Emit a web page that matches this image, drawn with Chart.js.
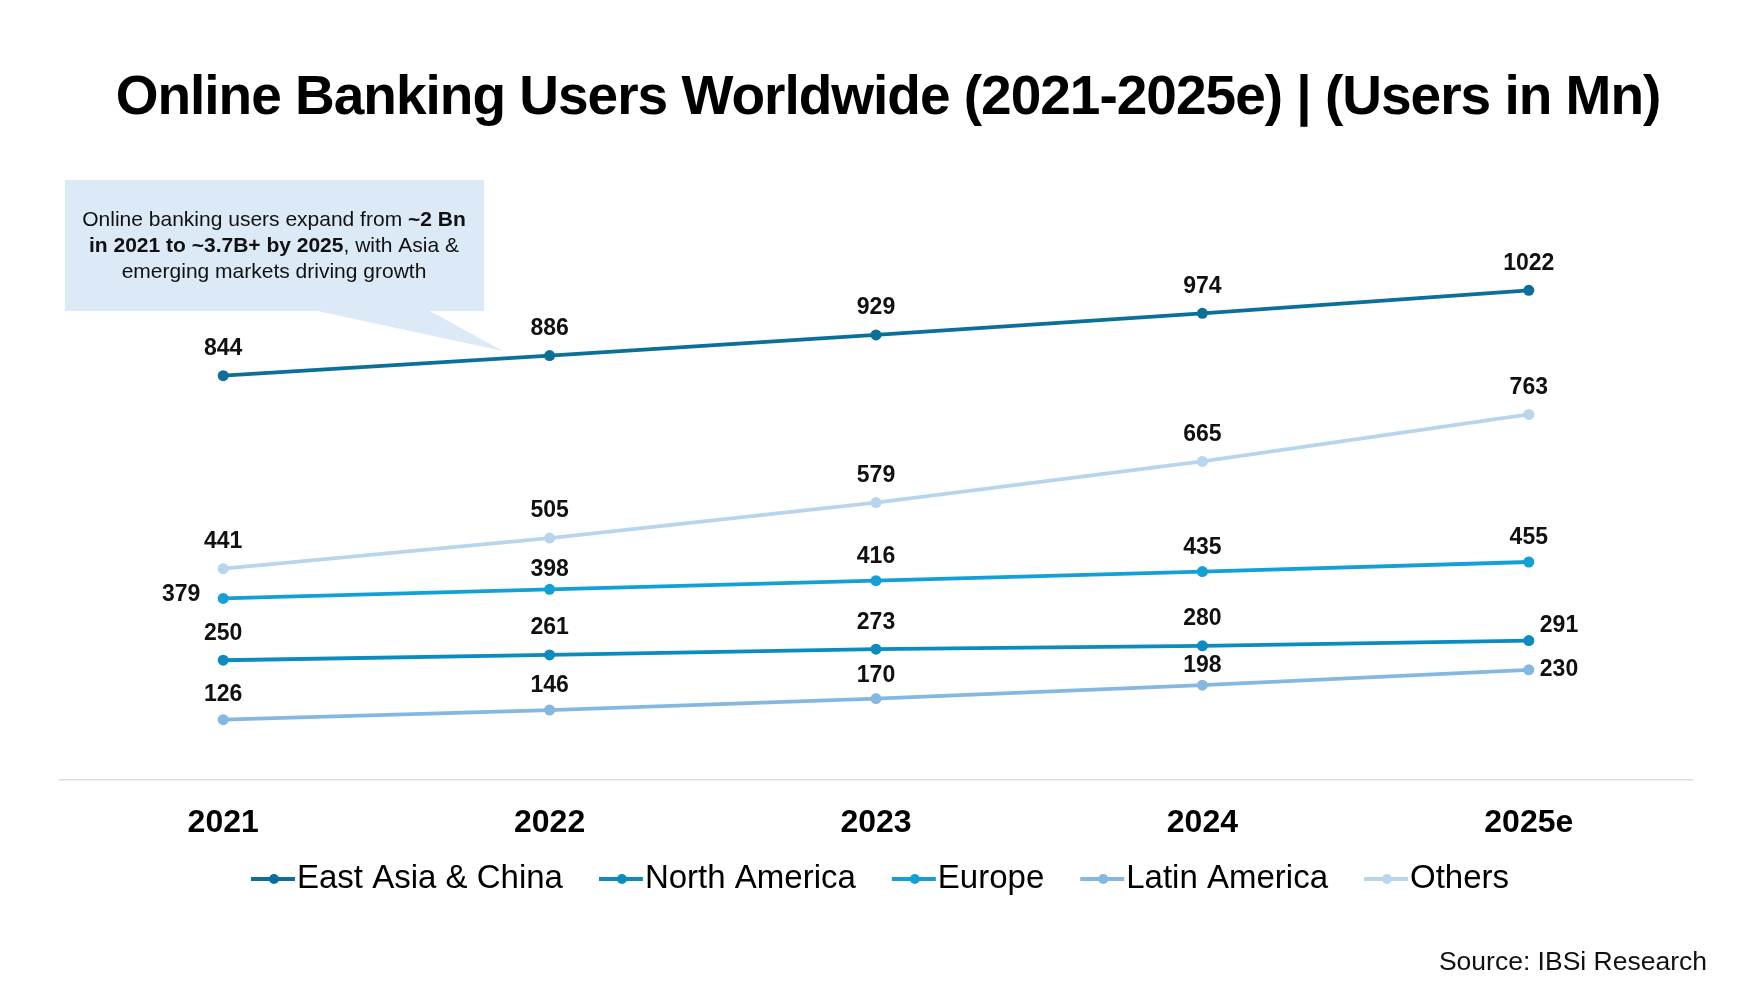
<!DOCTYPE html>
<html lang="en">
<head>
<meta charset="UTF-8">
<title>Online Banking Users Worldwide</title>
<script src="https://cdn.jsdelivr.net/npm/chart.js"></script>
<style>
	html, body { margin: 0; padding: 0; background: #fff; }
	#wrap { width: 1752px; height: 992px; position: relative; }
</style>
</head>
<body>
<div id="wrap"><canvas id="usersChart"></canvas></div>
<script>
	// data (users in Mn)
	const years = ['2021', '2022', '2023', '2024', '2025e'];
	const eastAsiaChina = [844, 886, 929, 974, 1022];
	const northAmerica = [250, 261, 273, 280, 291];
	const europe = [379, 398, 416, 435, 455];
	const latinAmerica = [126, 146, 170, 198, 230];
	const others = [441, 505, 579, 665, 763];

	const seriesNames = ['East Asia & China', 'North America', 'Europe', 'Latin America', 'Others'];
	const seriesColors = ['#0a6f99', '#0b8bbe', '#13a0d7', '#84b8e0', '#b9d5ec'];

	const FONT = '"Liberation Sans", Arial, sans-serif';

	// value labels: default is centred above the point; a few sit elsewhere
	const labelPlacement = {
		'2:0': { dx: -42, dy: -4, align: 'center' },   // Europe 2021 -> left
		'2:1': { dx: 0, dy: -20, align: 'center' },
		'2:2': { dx: 0, dy: -24, align: 'center' },
		'2:3': { dx: 0, dy: -24, align: 'center' },
		'2:4': { dx: 0, dy: -24, align: 'center' },
		'1:4': { dx: 11, dy: -15, align: 'left' },     // North America 2025e
		'3:0': { dx: 0, dy: -25, align: 'center' },
		'3:1': { dx: 0, dy: -24, align: 'center' },
		'3:2': { dx: 0, dy: -23, align: 'center' },
		'3:3': { dx: 0, dy: -19, align: 'center' },
		'3:4': { dx: 11, dy: 0, align: 'left' }        // Latin America 2025e
	};

	const valueLabels = {
		id: 'valueLabels',
		afterDatasetsDraw(chart) {
			const ctx = chart.ctx;
			ctx.save();
			ctx.font = 'bold 23px ' + FONT;
			ctx.fillStyle = '#111';
			ctx.textBaseline = 'middle';
			chart.data.datasets.forEach((ds, di) => {
				chart.getDatasetMeta(di).data.forEach((pt, i) => {
					const p = labelPlacement[di + ':' + i] || { dx: 0, dy: -27, align: 'center' };
					ctx.textAlign = p.align;
					ctx.fillText(ds.data[i], pt.x + p.dx, pt.y + p.dy);
				});
			});
			ctx.restore();
		}
	};

	const decorations = {
		id: 'decorations',
		beforeDraw(chart) {
			const ctx = chart.ctx;
			ctx.save();
			ctx.fillStyle = '#fff';
			ctx.fillRect(0, 0, chart.width, chart.height);
			ctx.restore();
		},
		afterDraw(chart) {
			const ctx = chart.ctx;
			ctx.save();

			// title
			ctx.fillStyle = '#000';
			ctx.textAlign = 'center';
			ctx.textBaseline = 'middle';
			ctx.font = 'bold 55px ' + FONT;
			ctx.letterSpacing = '-1px';
			ctx.fillText('Online Banking Users Worldwide (2021-2025e) | (Users in Mn)', 888, 99);
			ctx.letterSpacing = '0px';

			// callout box
			ctx.fillStyle = '#dce9f6';
			ctx.fillRect(65, 180, 419, 131);
			ctx.beginPath();
			ctx.moveTo(313, 310);
			ctx.lineTo(428, 310);
			ctx.lineTo(503, 351);
			ctx.closePath();
			ctx.fill();

			// callout text with bold fragments
			const lines = [
				[['Online banking users expand from ', false], ['~2 Bn', true]],
				[['in 2021 to ~3.7B+ by 2025', true], [', with Asia &', false]],
				[['emerging markets driving growth', false]]
			];
			ctx.fillStyle = '#111';
			ctx.textAlign = 'left';
			lines.forEach((parts, li) => {
				let w = 0;
				parts.forEach(([t, b]) => {
					ctx.font = (b ? 'bold ' : '') + '21px ' + FONT;
					w += ctx.measureText(t).width;
				});
				let x = 274 - w / 2;
				parts.forEach(([t, b]) => {
					ctx.font = (b ? 'bold ' : '') + '21px ' + FONT;
					ctx.fillText(t, x, 220 + li * 26);
					x += ctx.measureText(t).width;
				});
			});

			// legend
			const legendFont = '33px ' + FONT;
			ctx.font = legendFont;
			const markW = 46, gap = 36;
			let total = 0;
			seriesNames.forEach((n, i) => {
				total += markW + ctx.measureText(n).width + (i < seriesNames.length - 1 ? gap : 0);
			});
			let lx = 880 - total / 2;
			const ly = 879;
			seriesNames.forEach((n, i) => {
				ctx.strokeStyle = seriesColors[i];
				ctx.fillStyle = seriesColors[i];
				ctx.lineWidth = 4;
				ctx.beginPath();
				ctx.moveTo(lx, ly);
				ctx.lineTo(lx + markW - 2, ly);
				ctx.stroke();
				ctx.beginPath();
				ctx.arc(lx + markW / 2, ly, 5, 0, Math.PI * 2);
				ctx.fill();
				ctx.fillStyle = '#000';
				ctx.font = legendFont;
				ctx.fillText(n, lx + markW, ly);
				lx += markW + ctx.measureText(n).width + gap;
			});

			// source
			ctx.textAlign = 'right';
			ctx.font = '26.5px ' + FONT;
			ctx.fillStyle = '#111';
			ctx.fillText('Source: IBSi Research', 1707, 963);
			ctx.restore();
		}
	};

	const datasets = [eastAsiaChina, northAmerica, europe, latinAmerica, others].map((vals, i) => ({
		label: seriesNames[i],
		data: vals,
		borderColor: seriesColors[i],
		backgroundColor: seriesColors[i],
		borderWidth: 3.8,
		pointRadius: 5.5,
		pointHoverRadius: 5.5,
		pointBorderWidth: 0,
		tension: 0,
		clip: false
	}));

	const ctx = document.getElementById('usersChart').getContext('2d');
	new Chart(ctx, {
		type: 'line',
		data: { labels: years, datasets: datasets },
		options: {
			responsive: true,
			maintainAspectRatio: false,
			animation: false,
			layout: { padding: { left: 60, right: 60, top: 253, bottom: 152 } },
			plugins: {
				legend: { display: false },
				title: { display: false },
				tooltip: { enabled: false }
			},
			scales: {
				x: {
					offset: true,
					grid: { display: false, drawTicks: false },
					border: { display: true, color: '#dddddd', width: 1.5 },
					ticks: {
						color: '#000',
						padding: 24,
						font: { family: FONT, size: 32, weight: 'bold' }
					},
					afterFit(scale) { scale.height = 60; }
				},
				y: {
					display: false,
					min: 0,
					max: 1100
				}
			}
		},
		plugins: [decorations, valueLabels]
	});
</script>
</body>
</html>
